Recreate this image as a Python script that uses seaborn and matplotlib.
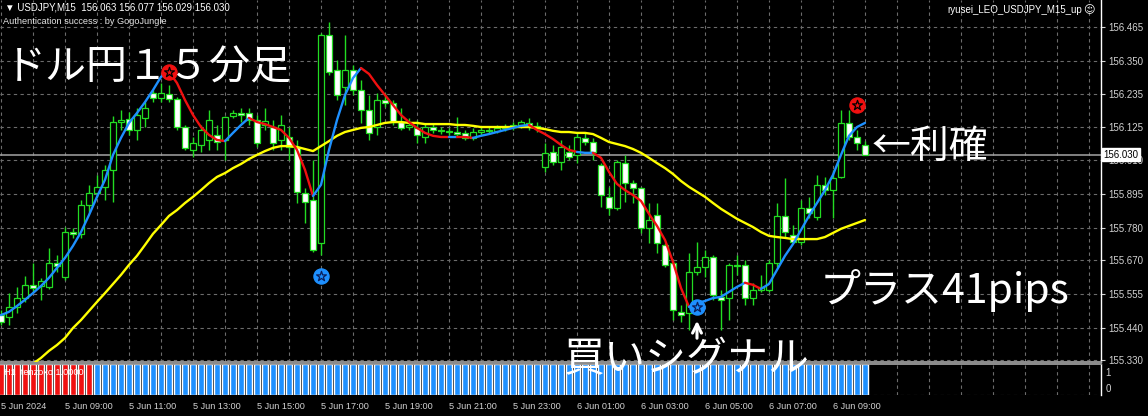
import matplotlib
matplotlib.use("Agg")
import matplotlib.pyplot as plt
from matplotlib.transforms import blended_transform_factory
import numpy as np
import seaborn as sns

# ---------------- data: USDJPY M15, 5 Jun 07:00 .. 6 Jun 10:00 ----------------
opens = [
    155.483, 155.477, 155.511, 155.541, 155.586, 155.582, 155.579, 155.661, 155.613, 155.766,
    155.760, 155.858, 155.899, 155.920, 155.978, 156.141, 156.151, 156.114, 156.155, 156.240,
    156.223, 156.237, 156.220, 156.124, 156.046, 156.063, 156.080, 156.097, 156.080, 156.162,
    156.172, 156.172, 156.148, 156.131, 156.124, 156.080, 156.090, 156.056, 155.899, 155.875,
    155.729, 156.438, 156.318, 156.261, 156.318, 156.250, 156.182, 156.124, 156.216, 156.206,
    156.141, 156.124, 156.121, 156.090, 156.124, 156.114, 156.111, 156.107, 156.104, 156.087,
    156.107, 156.114, 156.111, 156.121, 156.124, 156.131, 156.138, 156.128, 155.988, 156.039,
    156.005, 156.039, 156.029, 156.087, 156.073, 155.995, 155.886, 155.848, 156.001, 155.933,
    155.916, 155.780, 155.824, 155.722, 155.661, 155.494, 155.490, 155.630, 155.647, 155.681,
    155.545, 155.541, 155.654, 155.654, 155.541, 155.569, 155.569, 155.661, 155.821, 155.756,
    155.732, 155.848, 155.817, 155.927, 155.909, 155.954, 156.138, 156.090, 156.063]
highs = [
    155.501, 155.558, 155.579, 155.616, 155.661, 155.610, 155.712, 155.688, 155.783, 155.780,
    155.875, 155.927, 155.961, 155.995, 156.162, 156.182, 156.175, 156.189, 156.209, 156.250,
    156.274, 156.267, 156.226, 156.131, 156.090, 156.131, 156.182, 156.131, 156.162, 156.182,
    156.189, 156.189, 156.165, 156.189, 156.148, 156.165, 156.124, 156.080, 155.916, 156.012,
    156.445, 156.482, 156.353, 156.438, 156.335, 156.284, 156.233, 156.240, 156.240, 156.216,
    156.189, 156.155, 156.148, 156.138, 156.138, 156.124, 156.121, 156.158, 156.114, 156.121,
    156.128, 156.124, 156.131, 156.134, 156.141, 156.148, 156.155, 156.141, 156.070, 156.063,
    156.080, 156.063, 156.104, 156.104, 156.087, 156.001, 155.920, 156.012, 156.029, 155.944,
    155.920, 155.865, 155.865, 155.729, 155.671, 155.518, 155.695, 155.732, 155.705, 155.688,
    155.569, 155.661, 155.688, 155.671, 155.593, 155.620, 155.671, 155.865, 155.950, 155.790,
    155.875, 155.886, 155.961, 155.954, 155.978, 156.182, 156.182, 156.114, 156.077]
lows = [
    155.449, 155.449, 155.490, 155.528, 155.562, 155.535, 155.572, 155.630, 155.603, 155.746,
    155.746, 155.835, 155.886, 155.875, 155.869, 156.114, 156.097, 156.080, 156.124, 156.209,
    156.209, 156.209, 156.114, 156.046, 156.022, 156.039, 156.046, 156.046, 156.012, 156.155,
    156.141, 156.131, 156.056, 156.114, 156.046, 156.046, 156.012, 155.865, 155.797, 155.698,
    155.688, 156.301, 156.216, 156.199, 156.233, 156.138, 156.080, 156.097, 156.192, 156.131,
    156.114, 156.114, 156.070, 156.070, 156.104, 156.100, 156.097, 156.094, 156.080, 156.080,
    156.097, 156.100, 156.104, 156.111, 156.114, 156.121, 156.114, 156.107, 155.971, 155.995,
    155.978, 156.012, 156.001, 156.063, 156.012, 155.852, 155.824, 155.841, 155.869, 155.865,
    155.763, 155.729, 155.695, 155.647, 155.466, 155.460, 155.432, 155.620, 155.613, 155.535,
    155.432, 155.466, 155.620, 155.518, 155.518, 155.562, 155.562, 155.647, 155.749, 155.729,
    155.722, 155.814, 155.807, 155.892, 155.814, 155.950, 156.080, 156.046, 156.029]
closes = [
    155.460, 155.511, 155.541, 155.586, 155.575, 155.599, 155.661, 155.650, 155.766, 155.760,
    155.858, 155.899, 155.920, 155.978, 156.141, 156.148, 156.114, 156.165, 156.189, 156.223,
    156.240, 156.220, 156.124, 156.053, 156.070, 156.114, 156.148, 156.073, 156.158, 156.172,
    156.165, 156.148, 156.070, 156.145, 156.070, 156.131, 156.056, 155.903, 155.869, 155.705,
    156.438, 156.312, 156.233, 156.318, 156.250, 156.182, 156.104, 156.216, 156.206, 156.141,
    156.121, 156.131, 156.097, 156.124, 156.114, 156.111, 156.107, 156.100, 156.087, 156.107,
    156.114, 156.111, 156.121, 156.124, 156.131, 156.141, 156.128, 156.121, 156.036, 156.005,
    156.056, 156.022, 156.090, 156.073, 156.039, 155.892, 155.848, 156.005, 155.933, 155.916,
    155.780, 155.807, 155.729, 155.654, 155.501, 155.483, 155.630, 155.647, 155.681, 155.552,
    155.535, 155.654, 155.650, 155.541, 155.569, 155.579, 155.661, 155.821, 155.766, 155.732,
    155.848, 155.831, 155.927, 155.909, 155.950, 156.138, 156.090, 156.070, 156.030]

# fast signal line and its direction (1 = rising / blue, -1 = falling / red)
fast_line = [
    155.483, 155.494, 155.514, 155.535, 155.558, 155.582, 155.610, 155.644, 155.678, 155.719,
    155.766, 155.824, 155.886, 155.944, 156.029, 156.087, 156.138, 156.172, 156.209, 156.250,
    156.295, 156.312, 156.274, 156.216, 156.165, 156.124, 156.097, 156.080, 156.076, 156.104,
    156.131, 156.155, 156.141, 156.134, 156.124, 156.114, 156.087, 156.046, 155.978, 155.889,
    155.927, 156.046, 156.148, 156.233, 156.291, 156.325, 156.305, 156.267, 156.233, 156.199,
    156.165, 156.141, 156.121, 156.104, 156.094, 156.090, 156.090, 156.090, 156.090, 156.087,
    156.094, 156.100, 156.107, 156.114, 156.121, 156.128, 156.131, 156.114, 156.100, 156.083,
    156.063, 156.046, 156.039, 156.036, 156.036, 156.019, 155.971, 155.930, 155.909, 155.892,
    155.872, 155.828, 155.787, 155.739, 155.664, 155.575, 155.511, 155.524, 155.531, 155.541,
    155.545, 155.562, 155.579, 155.593, 155.586, 155.572, 155.589, 155.637, 155.685, 155.725,
    155.773, 155.821, 155.865, 155.909, 155.961, 156.029, 156.094, 156.124, 156.138]
fast_dir = [
    1, 1, 1, 1, 1, 1, 1, 1, 1, 1, 1, 1, 1, 1, 1, 1, 1, 1, 1, 1, 1, 1,
    -1, -1, -1, -1, -1, -1, -1,
    1, 1, 1,
    -1, -1, -1, -1, -1, -1, -1, -1,
    1, 1, 1, 1, 1, 1,
    -1, -1, -1, -1, -1, -1, -1, -1, -1, -1, -1,
    1,
    -1, -1,
    1, 1, 1, 1, 1, 1, 1,
    -1, -1, -1, -1, -1, -1,
    1, 1,
    -1, -1, -1, -1, -1, -1, -1, -1, -1, -1, -1, -1,
    1, 1, 1, 1, 1, 1, 1,
    -1, -1,
    1, 1, 1, 1, 1, 1, 1, 1, 1, 1, 1, 1, 1]

# slow moving average
slow_line = [
    155.221, 155.245, 155.269, 155.293, 155.317, 155.337, 155.361, 155.381, 155.405, 155.439,
    155.466, 155.497, 155.528, 155.558, 155.589, 155.620, 155.654, 155.685, 155.722, 155.760,
    155.790, 155.821, 155.841, 155.865, 155.886, 155.909, 155.933, 155.954, 155.967, 155.984,
    155.998, 156.015, 156.029, 156.042, 156.053, 156.059, 156.059, 156.056, 156.049, 156.042,
    156.059, 156.076, 156.094, 156.107, 156.114, 156.121, 156.124, 156.131, 156.138, 156.141,
    156.141, 156.138, 156.138, 156.134, 156.134, 156.134, 156.134, 156.131, 156.131, 156.128,
    156.124, 156.124, 156.124, 156.124, 156.124, 156.124, 156.124, 156.121, 156.117, 156.111,
    156.107, 156.107, 156.104, 156.104, 156.100, 156.087, 156.073, 156.066, 156.059, 156.049,
    156.036, 156.019, 156.001, 155.984, 155.964, 155.940, 155.920, 155.903, 155.886, 155.865,
    155.845, 155.828, 155.811, 155.797, 155.783, 155.766, 155.753, 155.749, 155.746, 155.742,
    155.742, 155.742, 155.742, 155.749, 155.763, 155.777, 155.787, 155.797, 155.807]

# entry / exit signals (bar index, price)
sell_bars = [21, 107]
sell_prices = [156.312, 156.199]
buy_bars = [40, 87]
buy_prices = [155.616, 155.511]

# H1 tenzoko state per bar (-1 red, 1 blue)
tenzoko_state = [-1] * 12 + [1] * 97

price_ticks = [156.465, 156.350, 156.235, 156.125, 156.010, 155.895,
               155.780, 155.670, 155.555, 155.440, 155.330]
time_tick_bars = [0, 8, 16, 24, 32, 40, 48, 56, 64, 72, 80, 88, 96, 104]
time_tick_labels = ["5 Jun 2024", "5 Jun 09:00", "5 Jun 11:00", "5 Jun 13:00",
                    "5 Jun 15:00", "5 Jun 17:00", "5 Jun 19:00", "5 Jun 21:00",
                    "5 Jun 23:00", "6 Jun 01:00", "6 Jun 03:00", "6 Jun 05:00",
                    "6 Jun 07:00", "6 Jun 09:00"]
last_price = 156.030

# ---------------- style ----------------
sns.set_style("dark", {"axes.facecolor": "black", "figure.facecolor": "black",
                       "axes.grid": False})
plt.rcParams["font.family"] = ["Liberation Sans", "DejaVu Sans"]
JP = ["Noto Sans CJK JP", "DejaVu Sans"]

CANDLE = "#22DC22"
GRID = "#6C6C6C"
LABEL = "#D2D2D2"
BLUE = "#1E90FF"
RED = "#F01010"

W, H = 1148, 416
fig = plt.figure(figsize=(W / 100, H / 100), dpi=100, facecolor="black")
ax = fig.add_axes([0.0, 1 - 362 / H, 1101 / W, 362 / H])
ax_sub = fig.add_axes([0.0, 1 - 395 / H, 1101 / W, 31 / H])

bars = np.arange(len(opens))
xlim = (-0.125, 137.5)

# grid
for a in (ax, ax_sub):
    a.set_facecolor("black")
    a.set_xlim(*xlim)
    for b in range(0, 138, 4):
        a.axvline(b, color=GRID, lw=0.8, ls=(0, (3, 3)), zorder=0)
for p in price_ticks:
    ax.axhline(p, color=GRID, lw=0.8, ls=(0, (3, 3)), zorder=0)

ax.set_ylim(155.323, 156.557)
ax.axhline(last_price, color="#A5A5A5", lw=1.1, zorder=1)

# candles
o = np.array(opens); h = np.array(highs); l = np.array(lows); c = np.array(closes)
ax.vlines(bars, l, h, color=CANDLE, lw=1.0, zorder=2)
body_low = np.minimum(o, c)
body_h = np.maximum(np.abs(c - o), 0.0012)
fills = ["white" if cc < oo else "black" for oo, cc in zip(o, c)]
ax.bar(bars, body_h, bottom=body_low, width=0.66, color=fills,
       edgecolor=CANDLE, linewidth=0.9, zorder=3)

# slow MA
sns.lineplot(x=bars, y=slow_line, ax=ax, color="#FFFF00", lw=1.7,
             legend=False, zorder=4)

# fast line coloured by direction
fd = np.array(fast_dir)
fl = np.array(fast_line)
start = 1
for i in range(2, len(fd) + 1):
    if i == len(fd) or fd[i] != fd[start]:
        seg = slice(start - 1, i)
        ax.plot(bars[seg], fl[seg], color=BLUE if fd[start] > 0 else RED,
                lw=1.7, solid_capstyle="round", zorder=5)
        start = i

# signals
sns.scatterplot(x=sell_bars, y=sell_prices, ax=ax, s=120, color=RED,
                edgecolor=RED, legend=False, zorder=7)
ax.scatter(sell_bars, sell_prices, marker="*", s=55, facecolor=RED,
           edgecolor="black", linewidth=0.9, zorder=8)
sns.scatterplot(x=buy_bars, y=buy_prices, ax=ax, s=120, color=BLUE,
                edgecolor=BLUE, legend=False, zorder=7)
ax.scatter(buy_bars, buy_prices, marker="*", s=55, facecolor=BLUE,
           edgecolor="#0A1F5C", linewidth=0.9, zorder=8)

# right price scale
ax.yaxis.tick_right()
ax.set_yticks(price_ticks)
ax.set_yticklabels([f"{p:.3f}" for p in price_ticks])
ax.tick_params(axis="y", colors=LABEL, labelsize=7, length=3, width=0.8, pad=2)
ax.set_xticks([])
ax.set_xlabel(""); ax.set_ylabel("")
for s in ("top", "left"):
    ax.spines[s].set_visible(False)
ax.spines["right"].set_color("white"); ax.spines["right"].set_linewidth(1.0)
ax.spines["bottom"].set_color("#9A9A9A"); ax.spines["bottom"].set_linewidth(1.3)

trans = blended_transform_factory(ax.transAxes, ax.transData)
ax.text(1.002, last_price, f"{last_price:.3f}", transform=trans, ha="left",
        va="center", fontsize=7, color="black", zorder=10,
        bbox=dict(facecolor="white", edgecolor="white", pad=1.2))

# sub window: H1 tenzoko
colors_sub = [RED if s < 0 else BLUE for s in tenzoko_state]
ax_sub.bar(bars, np.ones(len(bars)), width=0.64, color=colors_sub, zorder=2)
ax_sub.set_ylim(0, 1)
ax_sub.axhline(0, color=GRID, lw=0.8, ls=(0, (3, 3)), zorder=3)
ax_sub.set_yticks([])
ax_sub.set_xticks(time_tick_bars)
ax_sub.set_xticklabels(time_tick_labels)
for lbl in ax_sub.get_xticklabels():
    lbl.set_ha("left")
ax_sub.tick_params(axis="x", colors=LABEL, labelsize=6.6, length=2.5,
                   width=0.8, pad=2.5)
for s in ("left", "bottom"):
    ax_sub.spines[s].set_visible(False)
ax_sub.spines["top"].set_color("#9A9A9A"); ax_sub.spines["top"].set_linewidth(1.3)
ax_sub.spines["right"].set_color("white"); ax_sub.spines["right"].set_linewidth(1.0)
ax_sub.text(0.004, 0.72, "H1  tenzoko 1.0000", transform=ax_sub.transAxes,
            color="white", fontsize=6.6, va="center", ha="left", zorder=5)
ax_sub.text(1.004, 0.71, "1", transform=ax_sub.transAxes, color=LABEL,
            fontsize=7, va="center", ha="left")
ax_sub.text(1.004, 0.19, "0", transform=ax_sub.transAxes, color=LABEL,
            fontsize=7, va="center", ha="left")

# header lines
fig.text(5 / W, 1 - 8 / H, "▼ USDJPY,M15  156.063 156.077 156.029 156.030",
         color="white", fontsize=7, va="center", ha="left")
fig.text(3 / W, 1 - 21 / H, "Authentication success : by GogoJungle",
         color="#E6E6E6", fontsize=6.6, va="center", ha="left")
fig.text(1082 / W, 1 - 10 / H, "ryusei_LEO_USDJPY_M15_up", color="white",
         fontsize=7, va="center", ha="right")
fig.text(1089 / W, 1 - 10 / H, "☺", color="white", fontsize=8,
         va="center", ha="center", family=["DejaVu Sans"])

# annotations
fig.text(5 / W, 1 - 68 / H, "ドル円１５分足", color="white", fontsize=29.5,
         va="center", ha="left", family=JP)
fig.text(872 / W, 1 - 147 / H, "←利確", color="white", fontsize=28,
         va="center", ha="left", family=JP)
fig.text(820 / W, 1 - 290 / H, "プラス41pips", color="white", fontsize=29.5,
         va="center", ha="left", family=JP)
fig.text(564 / W, 1 - 360 / H, "買いシグナル", color="white", fontsize=29.5,
         va="center", ha="left", family=JP)
fig.add_artist(plt.Annotation(
    "", xy=(697, H - 318), xytext=(697, H - 341),
    xycoords="figure pixels", textcoords="figure pixels",
    arrowprops=dict(arrowstyle="->", color="white", lw=2.2, mutation_scale=16)))

fig.savefig("out.png", dpi=100, facecolor="black")
